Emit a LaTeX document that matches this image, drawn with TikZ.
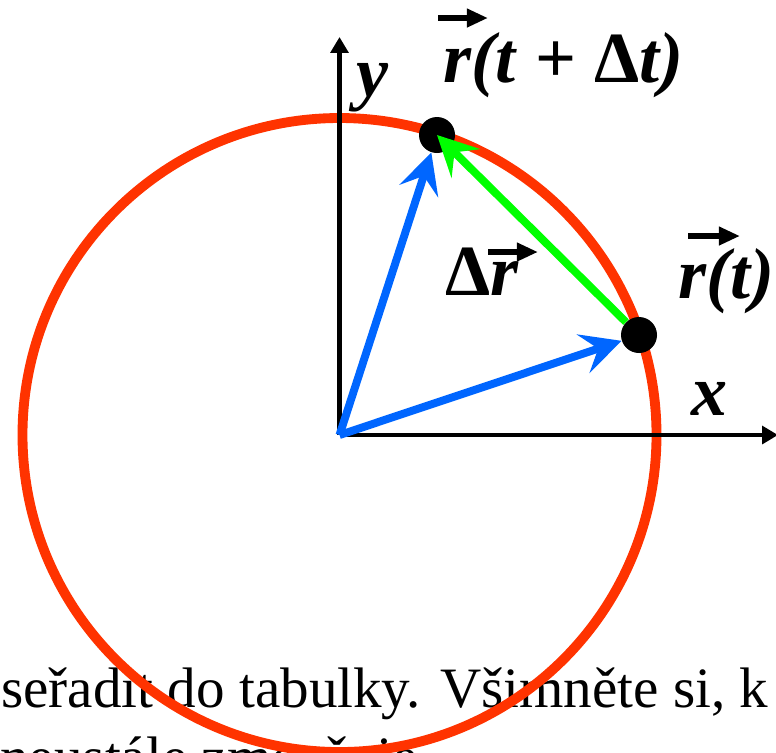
\documentclass[tikz,border=0pt]{standalone}
\usepackage{fontspec}
\setmainfont{Liberation Serif}
\usetikzlibrary{arrows.meta}
\definecolor{orbitred}{RGB}{255,51,0}
\definecolor{vecblue}{RGB}{0,102,255}
\definecolor{vecgreen}{RGB}{0,255,0}
\begin{document}
\begin{tikzpicture}[x=0.02cm,y=-0.02cm,
    lbl/.style={font=\fontsize{41}{45}\selectfont\bfseries\itshape, inner sep=0pt},
    bodytext/.style={font=\fontsize{32.5}{38}\selectfont, inner sep=0pt, anchor=base west},
    axis/.style={line width=2.3pt, -{Triangle[length=9pt,width=10pt]}},
    radvec/.style={line width=4.5pt, vecblue, -{Stealth[length=23pt,width=23pt,inset=9pt]}},
    dvec/.style={line width=4.5pt, vecgreen, -{Stealth[length=23pt,width=23pt,inset=9pt]}},
    overarr/.style={line width=3pt, -{Triangle[length=12pt,width=10pt]}},
    dot/.style={circle, fill=black, inner sep=0pt, minimum size=20.5pt}]
    \useasboundingbox (0,0) rectangle (776,752);
    \clip (0,0) rectangle (776,752);

    % Text of the page behind
    \node[bodytext] (txtA) at (1,707) {seřadit do tabulky. Všimněte si, k};
    \node[bodytext] (txtB) at (0,776) {neustále zmenšuje};

    % Trajectory
    \coordinate (O) at (339.5,435);
    \draw[orbitred, line width=5.6pt] (O) circle (317);

    % Axes
    \draw[axis] (O) -- (778,435);
    \draw[axis] (O) -- (339.5,37);
    \node[lbl] (xl) at (709,399) {x};
    \node[lbl] (yl) at (372,88) {y};

    % Positions
    \node[dot] (pA) at (639,335) {};
    \node[dot] (pB) at (437,135) {};
    \draw[radvec] (O) -- (pA);
    \draw[radvec] (O) -- (pB);
    \draw[dvec] (pA) -- (pB.center);

    % Labels
    \node[lbl, anchor=base west] (lB) at (443,82) {r(t \textup{+} \textup{Δ}t)};
    \draw[overarr] ([shift={(-5,-64)}]lB.base west) -- ([shift={(45,-64)}]lB.base west);
    \node[lbl, anchor=base west] (lA) at (678,298) {r(t)};
    \draw[overarr] ([shift={(10,-62)}]lA.base west) -- ([shift={(62,-62)}]lA.base west);
    \node[lbl, anchor=base west] (ld) at (445,295) {\textup{Δ}r};
    \draw[overarr] ([shift={(43,-43)}]ld.base west) -- ([shift={(93,-43)}]ld.base west);
\end{tikzpicture}
\end{document}
